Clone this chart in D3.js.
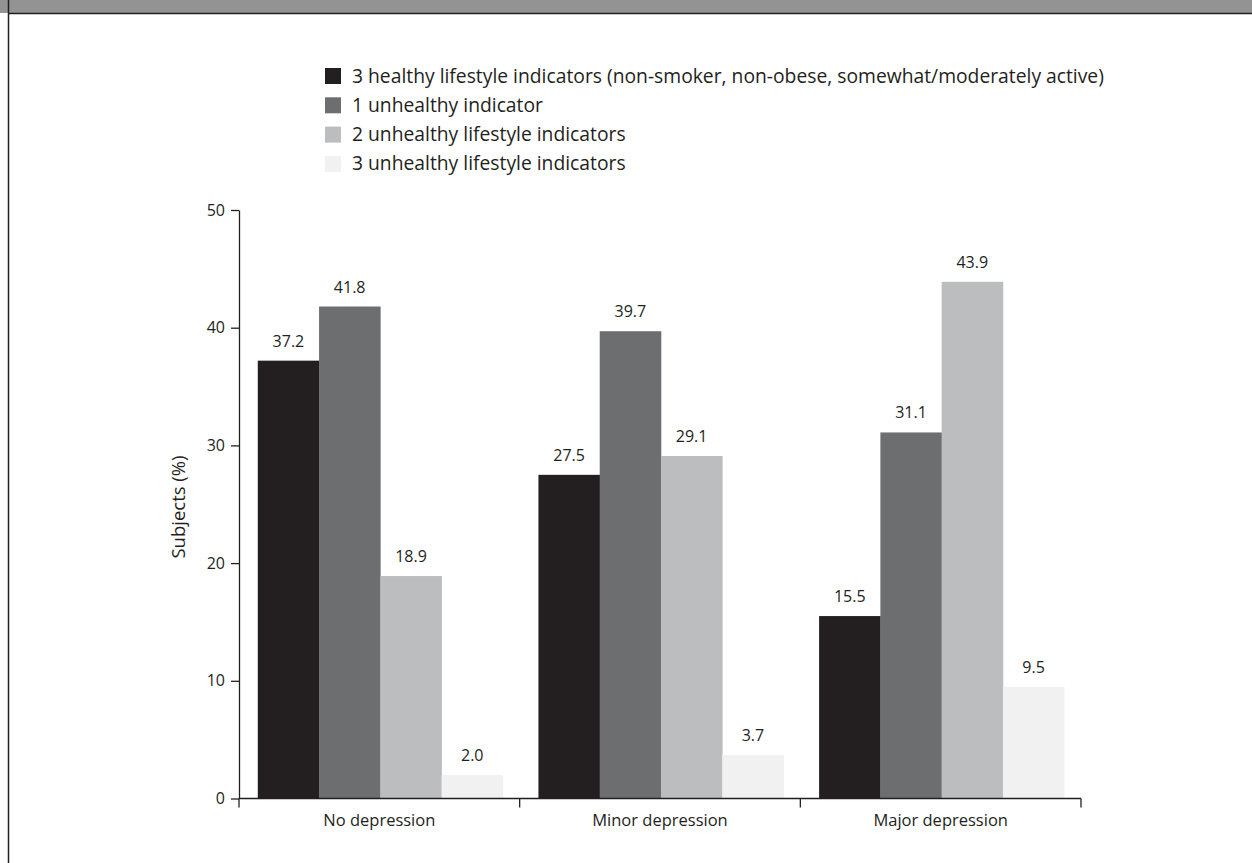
<!DOCTYPE html>
<html>
<head>
<meta charset="utf-8">
<script src="https://cdn.jsdelivr.net/npm/d3@7"></script>
<style>
  html, body { margin: 0; padding: 0; background: #ffffff; overflow: hidden; }
  svg { display: block; }
  text { font-family: "Open Sans", "Noto Sans", sans-serif; fill: #231f20; }
</style>
</head>
<body>
<svg id="chart" width="1252" height="863"></svg>
<script>
// Depression severity groups along the x axis
const categories = ["No depression", "Minor depression", "Major depression"];

// Lifestyle indicator series (legend order)
const seriesNames = [
  "3 healthy lifestyle indicators (non-smoker, non-obese, somewhat/moderately active)",
  "1 unhealthy indicator",
  "2 unhealthy lifestyle indicators",
  "3 unhealthy lifestyle indicators"
];

// Percent of subjects, one array per series, indexed like categories
const healthy3   = [37.2, 27.5, 15.5];
const unhealthy1 = [41.8, 39.7, 31.1];
const unhealthy2 = [18.9, 29.1, 43.9];
const unhealthy3 = [2.0, 3.7, 9.5];

const yTicks = [0, 10, 20, 30, 40, 50];
const yTitle = "Subjects (%)";

const seriesValues = [healthy3, unhealthy1, unhealthy2, unhealthy3];
const colors = ["#231f20", "#6d6e70", "#bcbdbf", "#f1f1f2"];

const svg = d3.select("#chart");
const W = 1252, H = 863;

// Header strip and frame
svg.append("rect").attr("x", 0).attr("y", 0).attr("width", W).attr("height", 13)
  .attr("fill", "#939393");
svg.append("line").attr("x1", 8).attr("x2", W).attr("y1", 13.5).attr("y2", 13.5)
  .attr("stroke", "#231f20").attr("stroke-width", 1.5);
svg.append("line").attr("x1", 8.5).attr("x2", 8.5).attr("y1", 0).attr("y2", H)
  .attr("stroke", "#231f20").attr("stroke-width", 1.5);

// Plot area
const plotLeft = 239, plotRight = 1081, plotTop = 210, plotBottom = 798.5;

const x0 = d3.scaleBand().domain(categories).range([plotLeft, plotRight]).paddingInner(0).paddingOuter(0);
const x1 = d3.scaleBand().domain(d3.range(seriesNames.length))
  .range([0, x0.bandwidth()]).paddingOuter(0.29).paddingInner(0);
const y = d3.scaleLinear().domain([0, 50]).range([plotBottom, plotTop]);

// Bars
const rows = [];
categories.forEach((c, ci) => {
  seriesValues.forEach((vals, si) => rows.push({ c, si, v: vals[ci] }));
});

svg.append("g").selectAll("rect").data(rows).join("rect")
  .attr("x", d => x0(d.c) + x1(d.si) + 1)
  .attr("width", x1.bandwidth() + 0.3)
  .attr("y", d => y(d.v))
  .attr("height", d => y(0) - y(d.v))
  .attr("fill", d => colors[d.si]);

// Value labels
svg.append("g").selectAll("text").data(rows).join("text")
  .attr("x", d => x0(d.c) + x1(d.si) + 1 + x1.bandwidth() / 2)
  .attr("y", d => y(d.v) - 14)
  .attr("text-anchor", "middle")
  .attr("font-size", 16)
  .text(d => d.v.toFixed(1));

// Y axis
const yAxis = d3.axisLeft(y).tickValues(yTicks).tickSize(8).tickPadding(6).tickSizeOuter(0);
const gy = svg.append("g").attr("transform", `translate(${plotLeft},0)`).call(yAxis);
gy.select(".domain").attr("stroke", "#231f20").attr("stroke-width", 1.3);
gy.selectAll(".tick line").attr("stroke", "#231f20").attr("stroke-width", 1.3);
gy.selectAll(".tick text").attr("font-size", 16).attr("font-family", null).attr("fill", "#231f20");

// X axis: separators at band boundaries
const gx = svg.append("g").attr("transform", `translate(0,${plotBottom})`);
gx.append("line").attr("x1", plotLeft).attr("x2", plotRight).attr("y1", 0).attr("y2", 0)
  .attr("stroke", "#231f20").attr("stroke-width", 1.3);
const bounds = categories.map(c => x0(c)).concat([x0(categories[categories.length - 1]) + x0.bandwidth()]);
gx.selectAll("line.sep").data(bounds).join("line").attr("class", "sep")
  .attr("x1", d => d).attr("x2", d => d).attr("y1", 0).attr("y2", 9)
  .attr("stroke", "#231f20").attr("stroke-width", 1.3);
gx.selectAll("text").data(categories).join("text")
  .attr("x", d => x0(d) + x0.bandwidth() / 2)
  .attr("y", 27)
  .attr("text-anchor", "middle")
  .attr("font-size", 16.5)
  .text(d => d);

// Y axis title
svg.append("text")
  .attr("transform", `translate(185,507) rotate(-90)`)
  .attr("text-anchor", "middle")
  .attr("font-size", 18.5)
  .text(yTitle);

// Legend
const legend = svg.append("g").attr("transform", "translate(325,68)");
const item = legend.selectAll("g").data(seriesNames).join("g")
  .attr("transform", (d, i) => `translate(0,${i * 29.3})`);
item.append("rect").attr("width", 16).attr("height", 16).attr("fill", (d, i) => colors[i]);
item.append("text").attr("x", 27).attr("y", 14.5).attr("font-size", 19.3).text(d => d);
</script>
</body>
</html>
